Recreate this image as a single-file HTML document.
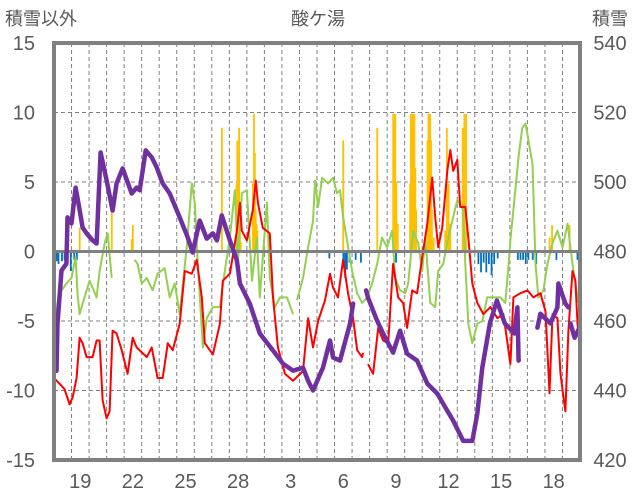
<!DOCTYPE html>
<html><head><meta charset="utf-8"><style>
html,body{margin:0;padding:0;background:#fff;}
svg{display:block;font-family:"Liberation Sans","Noto Sans CJK JP",sans-serif;}
</style></head><body>
<svg id="chart" width="636" height="501" viewBox="0 0 636 501">
<g id="grid"></g>
<g id="bars"></g>
<g id="lines"></g>
<g id="axes"></g>
<text x="5" y="25" font-size="18" fill="#595959">積雪以外</text>
<text x="318" y="25" font-size="18" fill="#595959" text-anchor="middle">酸ケ湯</text>
<text x="610" y="25" font-size="18" fill="#595959" text-anchor="middle">積雪</text>
</svg>
<script>
const leftTicks=[15,10,5,0,-5,-10,-15];
const rightTicks=[540,520,500,480,460,440,420];
const dayLabels=["19","22","25","28","3","6","9","12","15","18"];
const dayLabelIdx=[1,4,7,10,13,16,19,22,25,28];
const redT=[0,0.31,0.6,0.89,1.06,1.29,1.46,1.63,1.86,2.2,2.43,2.6,2.77,3.0,3.17,3.34,3.57,3.86,4.2,4.49,4.71,5.29,5.57,5.91,6.2,6.49,6.77,7.17,7.46,7.86,8.14,8.43,8.6,9.06,9.46,9.63,10.03,10.43,10.6,10.71,11.0,11.34,11.51,11.63,11.91,12.31,12.49,12.77,13.17,13.63,14.2,14.49,14.77,15.06,15.46,15.74,15.91,16.2,16.49,16.77,17.06,17.29,17.57,17.63,17.7,17.91,18.2,18.49,18.77,19.06,19.34,19.63,19.91,20.14,20.43,20.71,21.0,21.29,21.57,21.74,21.91,22.14,22.43,22.6,22.77,23.0,23.17,23.46,23.63,23.86,24.14,24.49,24.89,25.29,25.63,26.03,26.2,26.6,27.0,27.34,27.74,28.03,28.26,28.43,28.71,28.89,29.06,29.17,29.34,29.57,29.74,29.86,29.97];
const redV=[-9.1,-9.5,-9.9,-11.0,-10.5,-9.1,-6.2,-6.6,-7.6,-7.6,-6.4,-6.4,-10.7,-12.0,-11.5,-5.7,-5.9,-7.1,-8.8,-6.2,-6.9,-7.6,-6.9,-9.1,-9.1,-6.6,-7.1,-5.2,-1.4,-1.6,-0.6,-3.3,-6.6,-7.4,-5.2,-2.1,-1.6,1.5,3.5,1.5,0.8,3.0,5.1,3.5,1.7,1.3,-3.3,-6.9,-8.8,-9.3,-8.6,-4.8,-6.9,-5.0,-3.5,-1.6,-2.6,-3.3,-0.6,-3.0,-4.8,-7.1,-7.6,-7.3,null,-8.1,-8.8,-5.5,-6.4,-6.6,-0.9,-3.3,-3.7,-5.5,-2.8,-3.0,-0.4,2.0,5.3,2.5,0.3,1.7,5.8,7.3,5.8,6.6,3.2,3.2,1.0,-2.3,-3.7,-4.5,-4.0,-4.8,-4.5,-8.1,-3.3,-3.0,-2.8,-3.3,-3.0,-4.3,-10.2,-4.5,-4.8,-8.8,-10.5,-11.5,-5.7,-1.4,-2.1,-5.2,-6.6];
const greenT=[0,0.03,0.2,0.43,0.71,1.0,1.23,1.34,1.46,1.74,2.03,2.43,2.6,2.89,3.06,3.29,3.5,4.6,4.77,5.0,5.29,5.63,5.91,6.31,6.6,6.89,7.17,7.57,7.86,8.03,8.2,8.49,8.71,9.06,9.46,9.74,10.03,10.31,10.49,10.71,11.0,11.29,11.57,11.74,12.14,12.31,12.6,12.89,13.29,13.63,13.75,13.86,14.2,14.49,14.77,14.89,15.06,15.29,15.63,15.91,16.14,16.31,16.49,16.71,17.0,17.29,17.57,17.86,18.14,18.43,18.71,19.0,19.29,19.46,19.74,20.03,20.2,20.49,20.77,21.0,21.17,21.46,21.74,21.91,22.2,22.49,22.77,23.0,23.34,23.46,23.63,23.86,24.14,24.43,24.71,25.06,25.46,25.74,25.91,26.03,26.31,26.49,26.71,26.89,27.06,27.29,27.46,27.63,27.91,28.14,28.43,28.71,29.0,29.29,29.57,29.74,29.91];
const greenV=[-5.5,-6.4,-3.7,-2.8,-2.3,-1.9,-0.4,-3.0,-4.5,-3.3,-2.1,-3.3,-1.4,0.6,1.3,-1.9,null,-0.6,-0.9,-2.3,-1.9,-2.8,-1.6,-1.2,-3.3,-2.3,-4.5,0.3,4.9,3.5,-0.9,-6.9,-4.8,-4.0,-4.0,-1.4,1.0,4.4,-0.9,4.2,4.4,-2.1,1.0,-3.3,3.5,-1.9,-4.0,-3.3,-3.3,-4.5,null,-3.5,-1.9,0.3,2.2,5.1,3.2,5.3,4.9,5.3,4.2,4.4,2.5,0.8,-1.4,-3.0,-3.7,-3.3,-2.3,-0.9,1.0,0.3,1.5,-1.9,-2.8,-3.0,-2.3,1.5,0.6,-1.4,1.0,-3.7,-4.0,-1.4,-0.9,1.0,2.5,3.7,3.0,-0.9,-5.2,-6.6,-5.2,-5.0,-3.3,-3.3,-3.3,-3.7,-1.2,0.8,4.4,6.8,8.9,9.2,8.0,6.3,-0.9,-3.3,-2.8,-0.9,0.6,1.5,0.3,2.0,-0.9,-2.3,-3.7];
const snowT=[0.03,0.14,0.2,0.43,0.71,0.77,1.0,1.23,1.4,1.63,1.86,2.2,2.43,2.66,3.0,3.34,3.57,3.91,4.43,4.71,4.89,5.23,5.57,5.86,6.2,6.6,7.17,7.63,7.91,8.31,8.71,9.06,9.29,9.57,10.03,10.43,10.6,11.17,11.74,12.49,13.06,13.63,14.2,14.49,14.77,15.34,15.74,15.91,16.31,16.89,17.06,17.63,17.8,17.91,18.43,18.77,19.34,19.74,20.14,20.71,21.29,21.86,22.43,22.77,23.34,23.86,24.14,24.43,24.86,25.26,25.71,26.26,26.43,26.5,26.55,27.57,27.74,28.31,28.71,28.77,29.17,29.34,29.4,29.46,29.69,29.97];
const snowV=[447.7,445.7,459.3,474.5,476.5,489.8,488.1,498.4,493.8,486.9,485.2,483.2,482.3,508.5,500.5,491.8,499.6,503.9,496.7,498.4,497.6,509.1,507.1,504.2,499.6,496.7,489.8,484.0,479.7,488.9,483.7,485.2,483.2,490.4,483.2,477.4,470.8,465.0,456.4,451.5,447.7,445.7,446.6,442.8,440.0,446.6,454.4,449.5,448.6,459.3,465.0,null,468.8,466.7,460.1,456.4,450.9,457.2,450.6,448.6,442.0,439.1,434.2,431.3,425.5,425.5,433.3,446.6,459.3,465.9,459.3,456.4,463.9,448.6,null,458.1,462.1,459.3,463.9,470.8,465.0,463.9,null,459.3,455.2,458.1];
const rainT=[1.46,3.29,4.43,4.49,9.57,10.4,10.45,10.5,10.55,10.6,10.65,11.34,11.4,11.45,11.5,11.55,11.6,16.49,18.43,19.34,19.4,19.46,19.52,19.6,20.3,20.35,20.4,20.45,20.5,20.55,20.6,20.65,21.3,21.35,21.4,21.45,21.5,21.55,21.65,22.3,22.4,22.5,22.6,23.3,23.4,23.5,28.26,28.4,29.4];
const rainV=[1.7,3.9,0.9,1.9,8.9,4.9,8.0,7.0,8.9,3.5,0.7,4.9,9.9,7.1,3.0,2.0,1.5,8.0,8.9,9.9,9.9,9.9,5.0,2.0,4.9,9.9,9.9,9.9,9.9,9.9,6.0,3.0,8.0,9.9,9.9,9.9,8.0,3.0,1.0,1.5,8.9,4.9,2.0,8.9,9.9,9.9,1.0,1.9,1.9];
const meltT=[0.05,0.15,0.25,0.45,0.6,0.95,1.15,1.3,15.7,16.5,16.6,16.7,16.85,17.2,17.5,19.5,24.2,24.35,24.5,24.65,24.8,24.95,25.1,25.3,26.45,26.6,26.75,26.9,27.05,27.3,27.5,28.65,29.85];
const meltV=[-0.6,-0.7,-0.9,-0.7,-0.6,-1.4,-0.6,-0.6,-0.5,-0.8,-1.9,-1.3,-0.8,-0.6,-0.8,-0.8,-0.9,-1.5,-0.8,-1.5,-0.9,-1.7,-0.9,-0.5,-0.6,-0.6,-0.6,-0.9,-0.6,-0.6,-0.9,-0.6,-0.6];

const NS="http://www.w3.org/2000/svg";
const X0=54,X1=580,Y0=43,Y1=460,DAYS=30;
const xs=t=>X0+t*(X1-X0)/DAYS;
const yL=v=>Y0+(15-v)*(Y1-Y0)/30;
const yR=v=>Y0+(540-v)*(Y1-Y0)/120;
function mk(tag,attrs,parent){const e=document.createElementNS(NS,tag);for(const k in attrs)e.setAttribute(k,attrs[k]);parent.appendChild(e);return e;}
const grid=document.getElementById('grid'),bars=document.getElementById('bars'),lines=document.getElementById('lines'),axes=document.getElementById('axes');
for(let d=1;d<DAYS;d++){const l=mk('line',{x1:xs(d),x2:xs(d),y1:Y0,y2:Y1,stroke:'#808080','stroke-width':1,'stroke-dasharray':'4,3'},grid);

}
leftTicks.forEach(v=>{if(v!==0&&Math.abs(v)!==15){const l=mk('line',{x1:X0,x2:X1,y1:yL(v),y2:yL(v),stroke:'#808080','stroke-width':1,'stroke-dasharray':'4,3'},grid);

}});
function barSet(T,V,color,name){T.forEach((t,i)=>{const y0=yL(0),y1=yL(V[i]);const r=mk('rect',{x:xs(t)-0.8,width:1.8,y:Math.min(y0,y1),height:Math.abs(y1-y0),fill:color},bars);

});}
barSet(rainT,rainV,'#FFC000','rain-bar');
barSet(meltT,meltV,'#0070C0','melt-bar');
function path(T,V,yf){let d='',pen=false;T.forEach((t,i)=>{const v=V[i];if(v===null){pen=false;return;}d+=(pen?'L':'M')+xs(t).toFixed(1)+','+yf(v).toFixed(1);pen=true;});return d;}
const g=mk('path',{d:path(greenT,greenV,yL),fill:'none',stroke:'#92D050','stroke-width':2,'stroke-linejoin':'round'},lines);


const r=mk('path',{d:path(redT,redV,yL),fill:'none',stroke:'#FF0000','stroke-width':2,'stroke-linejoin':'round'},lines);


const zl=mk('line',{x1:X0,x2:X1,y1:yL(0),y2:yL(0),stroke:'#808080','stroke-width':3},lines);


const p=mk('path',{d:path(snowT,snowV,yR),fill:'none',stroke:'#7030A0','stroke-width':4.5,'stroke-linejoin':'round','stroke-linecap':'round'},lines);


const fr=mk('rect',{x:X0,y:Y0,width:X1-X0,height:Y1-Y0,fill:'none',stroke:'#808080','stroke-width':4},axes);


leftTicks.forEach(v=>{const t=mk('text',{x:35,y:yL(v)+7,'font-size':20,fill:'#595959','text-anchor':'end'},axes);t.textContent=v;

});
rightTicks.forEach(v=>{const t=mk('text',{x:610,y:yR(v)+7,'font-size':20,fill:'#595959','text-anchor':'middle'},axes);t.textContent=v;

});
dayLabels.forEach((s,i)=>{const t=mk('text',{x:xs(dayLabelIdx[i]+0.5),y:488,'font-size':20,fill:'#595959','text-anchor':'middle'},axes);t.textContent=s;

});
</script>
</body></html>
